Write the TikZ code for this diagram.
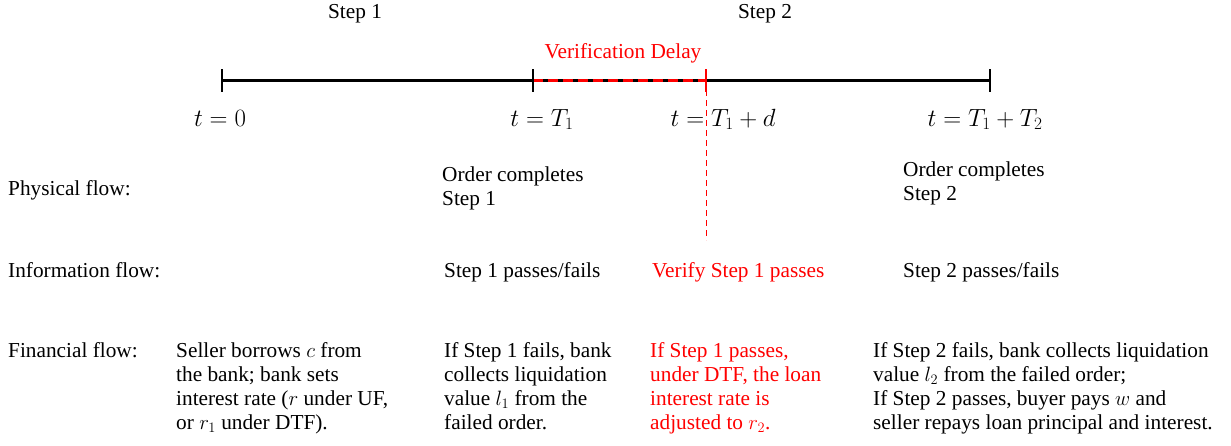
\documentclass[tikz,border=0pt]{standalone}
\usepackage{fontspec}
\setmainfont{Liberation Serif}
\begin{document}
\begin{tikzpicture}[x=1pt,y=-1pt,
  txt/.style={inner sep=0pt,anchor=north west,align=left,font=\fontsize{21.3}{24}\selectfont},
  hdr/.style={inner sep=0pt,anchor=base,font=\fontsize{21.3}{24}\selectfont},
  tlab/.style={inner sep=0pt,anchor=base,font=\fontsize{26}{30}\selectfont},
  tick/.style={line width=2.5pt},
  redtxt/.style={text=red}]
\useasboundingbox (0,0) rectangle (1231,445);
% headers
\node[hdr] (s1) at (355,18) {Step 1};
\node[hdr] (s2) at (765,18) {Step 2};
\node[hdr,redtxt] (vd) at (623,58) {Verification Delay};
% timeline
\coordinate (a) at (222,80);
\coordinate (b) at (533,80);
\coordinate (c) at (706,80);
\coordinate (e) at (990,80);
\draw[line width=3pt] (a) -- (e);
\draw[line width=3pt,red,dash pattern=on 10pt off 5pt] (b) -- (c);
\draw[tick] (222,69) -- (222,92);
\draw[tick] (533,69) -- (533,92);
\draw[tick,red] (706,69) -- (706,92);
\draw[tick] (990,69) -- (990,92);
\coordinate (vend) at (706,240);
\draw[red,line width=0.8pt,dash pattern=on 6pt off 4pt] (c) -- (vend);
% time labels
\node[tlab] (t0) at (220,126) {$t=0$};
\node[tlab] (t1) at (542,126) {$t=T_1$};
\node[tlab] (t2) at (723,126) {$t=T_1+d$};
\node[tlab] (t3) at (985,126) {$t=T_1+T_2$};
% row labels
\node[txt] (pf) at (8,180) {Physical flow:};
\node[txt] (if) at (8,262) {Information flow:};
\node[txt] (ff) at (8,342) {Financial flow:};
% physical
\node[txt] (p1) at (442,167) {Order completes\\Step 1};
\node[txt] (p2) at (903,162) {Order completes\\Step 2};
% information
\node[txt] (i1) at (444,262) {Step 1 passes/fails};
\node[txt,redtxt] (i2) at (652,262) {Verify Step 1 passes};
\node[txt] (i3) at (903,262) {Step 2 passes/fails};
% financial
\node[txt] (f1) at (176,342) {Seller borrows $c$ from\\the bank; bank sets\\interest rate ($r$ under UF,\\or $r_1$ under DTF).};
\node[txt] (f2) at (444,342) {If Step 1 fails, bank\\collects liquidation\\value $l_1$ from the\\failed order.};
\node[txt,redtxt] (f3) at (650,342) {If Step 1 passes,\\under DTF, the loan\\interest rate is\\adjusted to $r_2$.};
\node[txt] (f4) at (873,342) {If Step 2 fails, bank collects liquidation\\value $l_2$ from the failed order;\\If Step 2 passes, buyer pays $w$ and\\seller repays loan principal and interest.};
\end{tikzpicture}
\end{document}
